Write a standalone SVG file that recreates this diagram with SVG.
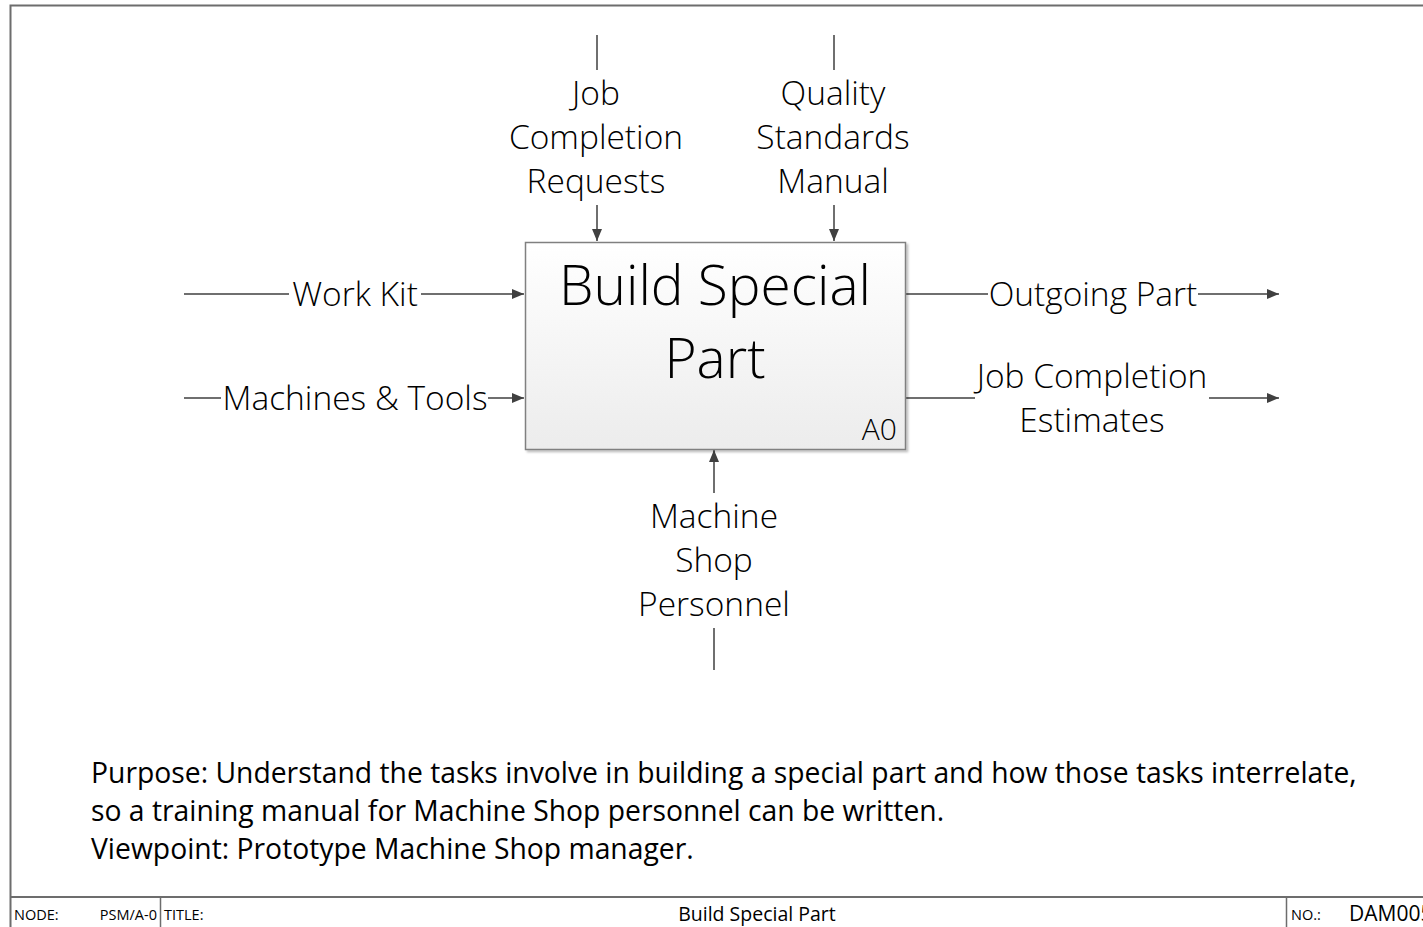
<svg xmlns="http://www.w3.org/2000/svg" width="1423" height="927" viewBox="0 0 1423 927">
<defs>
<linearGradient id="boxg" x1="0" y1="0" x2="0" y2="1">
<stop offset="0" stop-color="#ffffff"/>
<stop offset="1" stop-color="#ececec"/>
</linearGradient>
<marker id="ah" markerWidth="12" markerHeight="10" refX="12" refY="5" orient="auto" markerUnits="userSpaceOnUse">
<path d="M0,0 L12,5 L0,10 Z" fill="#404040"/>
</marker>
<filter id="sh" x="-5%" y="-5%" width="110%" height="110%">
<feDropShadow dx="2" dy="2" stdDeviation="1.2" flood-color="#000" flood-opacity="0.25"/>
</filter>
</defs>
<style>
.ln{stroke:#404040;stroke-width:1.5;fill:none}
.lb{font-family:"Open Sans","Noto Sans","Liberation Sans",sans-serif;font-size:33.5px;font-weight:350;fill:#000}
.ft{font-family:"Open Sans","Noto Sans","Liberation Sans",sans-serif;fill:#000}
.fr{stroke:#6d6d6d;stroke-width:2;fill:none}
</style>
<rect width="1423" height="927" fill="#fff"/>
<g id="frame">
<path class="fr" d="M1425,5.5 H10.5 V927"/>
<path class="fr" d="M10.5,897 H1425"/>
<path d="M160.5,897 V927 M1286.5,897 V927" stroke="#6d6d6d" stroke-width="1.5"/>
<text class="ft" x="14" y="920" font-size="14.5">NODE:</text>
<text class="ft" x="157" y="920" font-size="14.5" text-anchor="end">PSM/A-0</text>
<text class="ft" x="164" y="920" font-size="14.5">TITLE:</text>
<text class="ft" x="757" y="921" font-size="19.5" text-anchor="middle">Build Special Part</text>
<text class="ft" x="1291" y="920" font-size="14.5">NO.:</text>
<text class="ft" x="1349" y="921" font-size="21">DAM005</text>
</g>
<g id="connectors">
<path class="ln" d="M184,294 H289 M421,294 H524" marker-end="url(#ah)"/>
<path class="ln" d="M184,398 H221 M488,398 H524" marker-end="url(#ah)"/>
<path class="ln" d="M906,294 H988 M1198,294 H1279" marker-end="url(#ah)"/>
<path class="ln" d="M906,398 H975 M1209,398 H1279" marker-end="url(#ah)"/>
<path class="ln" d="M597,35 V70 M597,205 V241" marker-end="url(#ah)"/>
<path class="ln" d="M834,35 V70 M834,205 V241" marker-end="url(#ah)"/>
<path class="ln" d="M714,670 V628 M714,493 V450" marker-end="url(#ah)"/>
</g>
<g id="labels">
<text class="lb" x="355" y="306" text-anchor="middle">Work Kit</text>
<text class="lb" x="355" y="410" text-anchor="middle">Machines &amp; Tools</text>
<text class="lb" x="1093" y="306" text-anchor="middle">Outgoing Part</text>
<text class="lb" x="1092" y="388" text-anchor="middle">Job Completion</text>
<text class="lb" x="1092" y="432" text-anchor="middle">Estimates</text>
<text class="lb" x="596" y="105" text-anchor="middle">Job</text>
<text class="lb" x="596" y="149" text-anchor="middle">Completion</text>
<text class="lb" x="596" y="193" text-anchor="middle">Requests</text>
<text class="lb" x="833" y="105" text-anchor="middle">Quality</text>
<text class="lb" x="833" y="149" text-anchor="middle">Standards</text>
<text class="lb" x="833" y="193" text-anchor="middle">Manual</text>
<text class="lb" x="714" y="528" text-anchor="middle">Machine</text>
<text class="lb" x="714" y="572" text-anchor="middle">Shop</text>
<text class="lb" x="714" y="616" text-anchor="middle">Personnel</text>
</g>
<g id="A0">
<rect x="525.5" y="242.5" width="380" height="207" fill="url(#boxg)" stroke="#808080" stroke-width="1.5" filter="url(#sh)"/>
<text class="ft" x="715" y="305" font-size="55" font-weight="300" text-anchor="middle">Build Special</text>
<text class="ft" x="715" y="378" font-size="55" font-weight="300" text-anchor="middle">Part</text>
<text class="ft" x="897" y="440" font-size="30" font-weight="300" text-anchor="end">A0</text>
</g>
<g id="purpose">
<text class="ft" x="91" y="783" font-size="28.3">Purpose: Understand the tasks involve in building a special part and how those tasks interrelate,</text>
<text class="ft" x="91" y="821" font-size="28.3">so a training manual for Machine Shop personnel can be written.</text>
<text class="ft" x="91" y="859" font-size="28.3">Viewpoint: Prototype Machine Shop manager.</text>
</g>
</svg>
